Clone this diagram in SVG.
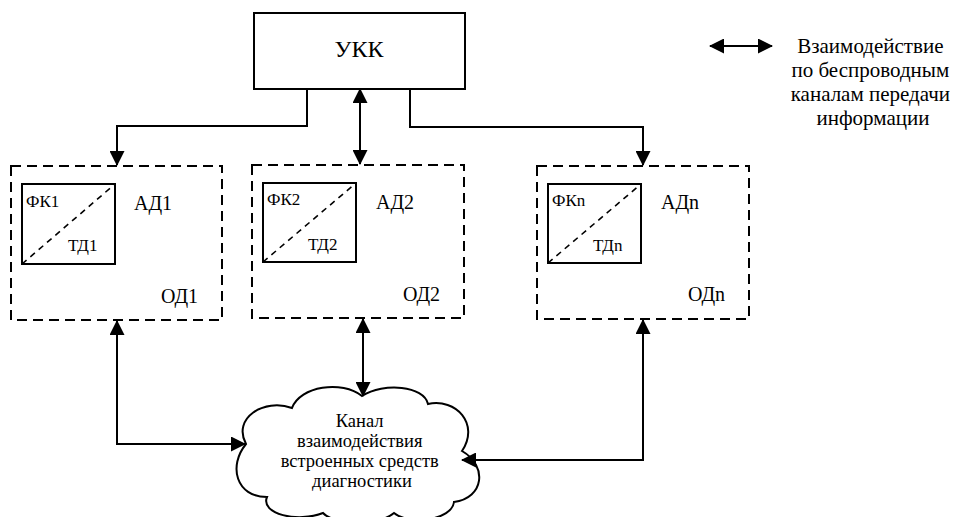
<svg xmlns="http://www.w3.org/2000/svg" width="960" height="517" viewBox="0 0 960 517">
<defs>
<marker id="ah" markerUnits="userSpaceOnUse" markerWidth="15" markerHeight="15" refX="14" refY="7.5" orient="auto-start-reverse" viewBox="0 0 15 15">
<path d="M0,0 L15,7.5 L0,15 Z" fill="#000"/>
</marker>
</defs>
<style>
.solid{fill:#fff;stroke:#000;stroke-width:2}
.dash{fill:#fff;stroke:#000;stroke-width:2;stroke-dasharray:10,6}
.diag{stroke:#000;stroke-width:1.6;stroke-dasharray:6,5;fill:none}
.c{fill:none;stroke:#000;stroke-width:2}
.s{font-family:'Liberation Serif','Times New Roman',serif}
</style>
<rect width="960" height="517" fill="#fff"/>

<g class="s" fill="#000">
<g id="ukk">
<rect class="solid" x="254" y="13" width="211" height="76"/>
<text x="359" y="57" font-size="24" text-anchor="middle">УКК</text>
</g>

<g id="od1">
<rect class="dash" x="11" y="166" width="211" height="154"/>
<rect class="solid" x="22" y="184" width="93" height="80"/>
<line class="diag" x1="22" y1="264" x2="115" y2="184"/>
<text x="26" y="207" font-size="17">ФК1</text>
<text x="68" y="251" font-size="17">ТД1</text>
<text x="134" y="210" font-size="20">АД1</text>
<text x="161" y="303" font-size="20">ОД1</text>
</g>

<g id="od2">
<rect class="dash" x="252" y="165" width="212" height="153"/>
<rect class="solid" x="263" y="183" width="93" height="79"/>
<line class="diag" x1="263" y1="262" x2="356" y2="183"/>
<text x="267" y="205" font-size="17">ФК2</text>
<text x="308" y="250" font-size="17">ТД2</text>
<text x="376" y="209" font-size="20">АД2</text>
<text x="403" y="301" font-size="20">ОД2</text>
</g>

<g id="odn">
<rect class="dash" x="537" y="166" width="212" height="153"/>
<rect class="solid" x="548" y="184" width="93" height="79"/>
<line class="diag" x1="548" y1="263" x2="641" y2="184"/>
<text x="552" y="206" font-size="17">ФКn</text>
<text x="593" y="251" font-size="17">ТДn</text>
<text x="661" y="209" font-size="20">АДn</text>
<text x="688" y="301" font-size="20">ОДn</text>
</g>

<g id="cloud">
<path class="solid" d="M246,444 C232,418 264,398 292,408 C300,386 342,380 362,396 C384,382 424,386 428,404 C456,398 480,424 462,451 C488,466 484,498 454,502 C452,520 410,526 394,513 C378,526 334,525 323,513 C298,523 260,514 267,497 C236,497 228,466 246,444 Z"/>
<text font-size="18.5" text-anchor="middle">
<tspan x="362" y="427">Канал</tspan>
<tspan x="362" y="447">взаимодействия</tspan>
<tspan x="362" y="467">встроенных средств</tspan>
<tspan x="362" y="487">диагностики</tspan>
</text>
</g>

<g id="legend">
<text font-size="21" text-anchor="middle">
<tspan x="873" y="53">Взаимодействие</tspan>
<tspan x="873" y="77">по беспроводным</tspan>
<tspan x="873" y="101">каналам передачи</tspan>
<tspan x="873" y="125">информации</tspan>
</text>
</g>
</g>

<g id="connectors">
<line class="c" x1="710" y1="46" x2="772" y2="46" marker-start="url(#ah)" marker-end="url(#ah)"/>
<path class="c" d="M307,89 V126 H117 V165" marker-end="url(#ah)"/>
<line class="c" x1="360" y1="89" x2="360" y2="164" marker-start="url(#ah)" marker-end="url(#ah)"/>
<path class="c" d="M410,89 V127 H643 V165" marker-end="url(#ah)"/>
<path class="c" d="M117,321 V444 H245" marker-start="url(#ah)" marker-end="url(#ah)"/>
<line class="c" x1="363" y1="319" x2="363" y2="396" marker-start="url(#ah)" marker-end="url(#ah)"/>
<path class="c" d="M643,320 V460 H462" marker-start="url(#ah)" marker-end="url(#ah)"/>
</g>
</svg>
